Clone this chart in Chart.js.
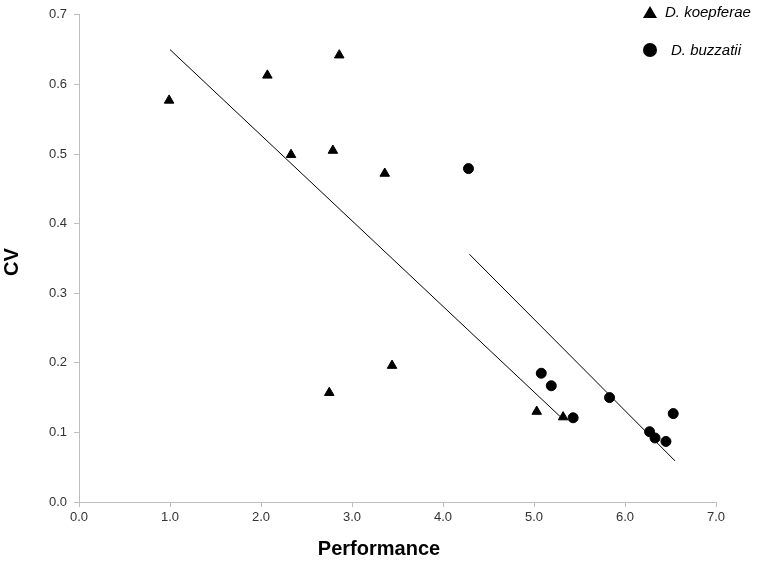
<!DOCTYPE html>
<html>
<head>
<meta charset="utf-8">
<script src="https://cdn.jsdelivr.net/npm/chart.js@4.4.1/dist/chart.umd.min.js"></script>
<style>
  body { margin: 0; background: #fff; }
  #wrap { position: relative; width: 782px; height: 563px; }
  .legend-item {
    position: absolute;
    font-family: "Liberation Sans", Arial, sans-serif;
    font-style: italic;
    font-size: 15px;
    color: #000;
    line-height: 18px;
  }
  .tri {
    position: absolute;
    width: 0; height: 0;
    border-left: 7px solid transparent;
    border-right: 7px solid transparent;
    border-bottom: 12px solid #000;
  }
  .dot {
    position: absolute;
    width: 14px; height: 14px;
    border-radius: 50%;
    background: #000;
  }
</style>
</head>
<body>
<div id="wrap">
  <canvas id="chart"></canvas>
  <div class="tri" style="left:643px; top:6px;"></div>
  <div class="legend-item" style="left:665px; top:3px;">D. koepferae</div>
  <div class="dot" style="left:643px; top:43px;"></div>
  <div class="legend-item" style="left:671px; top:41px;">D. buzzatii</div>
</div>
<script>
// values
const koepferaeX = [0.99, 2.07, 2.86, 2.33, 2.79, 3.36, 2.75, 3.44, 5.03, 5.32];
const koepferaeY = [0.577, 0.613, 0.642, 0.499, 0.505, 0.472, 0.157, 0.196, 0.130, 0.122];
const buzzatiiX = [4.28, 5.08, 5.19, 5.43, 5.83, 6.27, 6.33, 6.45, 6.53];
const buzzatiiY = [0.479, 0.185, 0.167, 0.121, 0.150, 0.101, 0.092, 0.087, 0.127];

// trend lines (end points)
const koepferaeFitX = [1.0, 5.31];
const koepferaeFitY = [0.650, 0.120];
const buzzatiiFitX = [4.29, 6.55];
const buzzatiiFitY = [0.356, 0.059];

const xTicks = [0, 1, 2, 3, 4, 5, 6, 7];
const yTicks = [0, 0.1, 0.2, 0.3, 0.4, 0.5, 0.6, 0.7];

const xTitle = 'Performance';
const yTitle = 'CV';

function toPoints(xs, ys) {
  return xs.map((x, i) => ({ x: x, y: ys[i] }));
}

const FONT = '"Liberation Sans", Arial, sans-serif';

// axis titles drawn by hand so they sit where the original has them
const axisTitles = {
  id: 'axisTitles',
  afterDraw(chart) {
    const ctx = chart.ctx;
    ctx.save();
    ctx.fillStyle = '#000';
    ctx.font = 'bold 20px ' + FONT;
    ctx.textAlign = 'center';
    ctx.textBaseline = 'middle';
    ctx.fillText(xTitle, 379, 549);
    ctx.translate(12, 262);
    ctx.rotate(-Math.PI / 2);
    ctx.fillText(yTitle, 0, 0);
    ctx.restore();
  }
};

const ctx = document.getElementById('chart').getContext('2d');
const chart = new Chart(ctx, {
  type: 'scatter',
  data: {
    datasets: [
      {
        label: 'D. koepferae',
        data: toPoints(koepferaeX, koepferaeY),
        pointStyle: 'triangle',
        pointRadius: 5.5,
        backgroundColor: '#000',
        borderColor: '#000',
        borderWidth: 1
      },
      {
        label: 'D. buzzatii',
        data: toPoints(buzzatiiX, buzzatiiY),
        pointStyle: 'circle',
        pointRadius: 5,
        backgroundColor: '#000',
        borderColor: '#000',
        borderWidth: 1
      },
      {
        label: 'fit koepferae',
        data: toPoints(koepferaeFitX, koepferaeFitY),
        showLine: true,
        pointRadius: 0,
        borderColor: '#000',
        borderWidth: 1
      },
      {
        label: 'fit buzzatii',
        data: toPoints(buzzatiiFitX, buzzatiiFitY),
        showLine: true,
        pointRadius: 0,
        borderColor: '#000',
        borderWidth: 1
      }
    ]
  },
  options: {
    responsive: true,
    maintainAspectRatio: false,
    animation: false,
    layout: { padding: { top: 12, right: 66, left: 0, bottom: 0 } },
    plugins: {
      legend: { display: false },
      tooltip: { enabled: false }
    },
    scales: {
      x: {
        type: 'linear',
        min: 0,
        max: 7,
        afterFit(scale) { scale.height = 61; },
        afterBuildTicks(scale) { scale.ticks = xTicks.map(v => ({ value: v })); },
        ticks: {
          padding: 3,
          color: '#333',
          font: { family: FONT, size: 13 },
          callback: v => Number(v).toFixed(1)
        },
        grid: { drawOnChartArea: false, drawTicks: true, tickLength: 5, color: '#bfbfbf' },
        border: { color: '#bfbfbf' }
      },
      y: {
        type: 'linear',
        min: 0,
        max: 0.7,
        afterFit(scale) { scale.width = 79; },
        afterBuildTicks(scale) { scale.ticks = yTicks.map(v => ({ value: v })); },
        ticks: {
          padding: 7,
          color: '#333',
          font: { family: FONT, size: 13 },
          callback: v => Number(v).toFixed(1)
        },
        grid: { drawOnChartArea: false, drawTicks: true, tickLength: 5, color: '#bfbfbf' },
        border: { color: '#bfbfbf' }
      }
    }
  },
  plugins: [axisTitles]
});
</script>
</body>
</html>
